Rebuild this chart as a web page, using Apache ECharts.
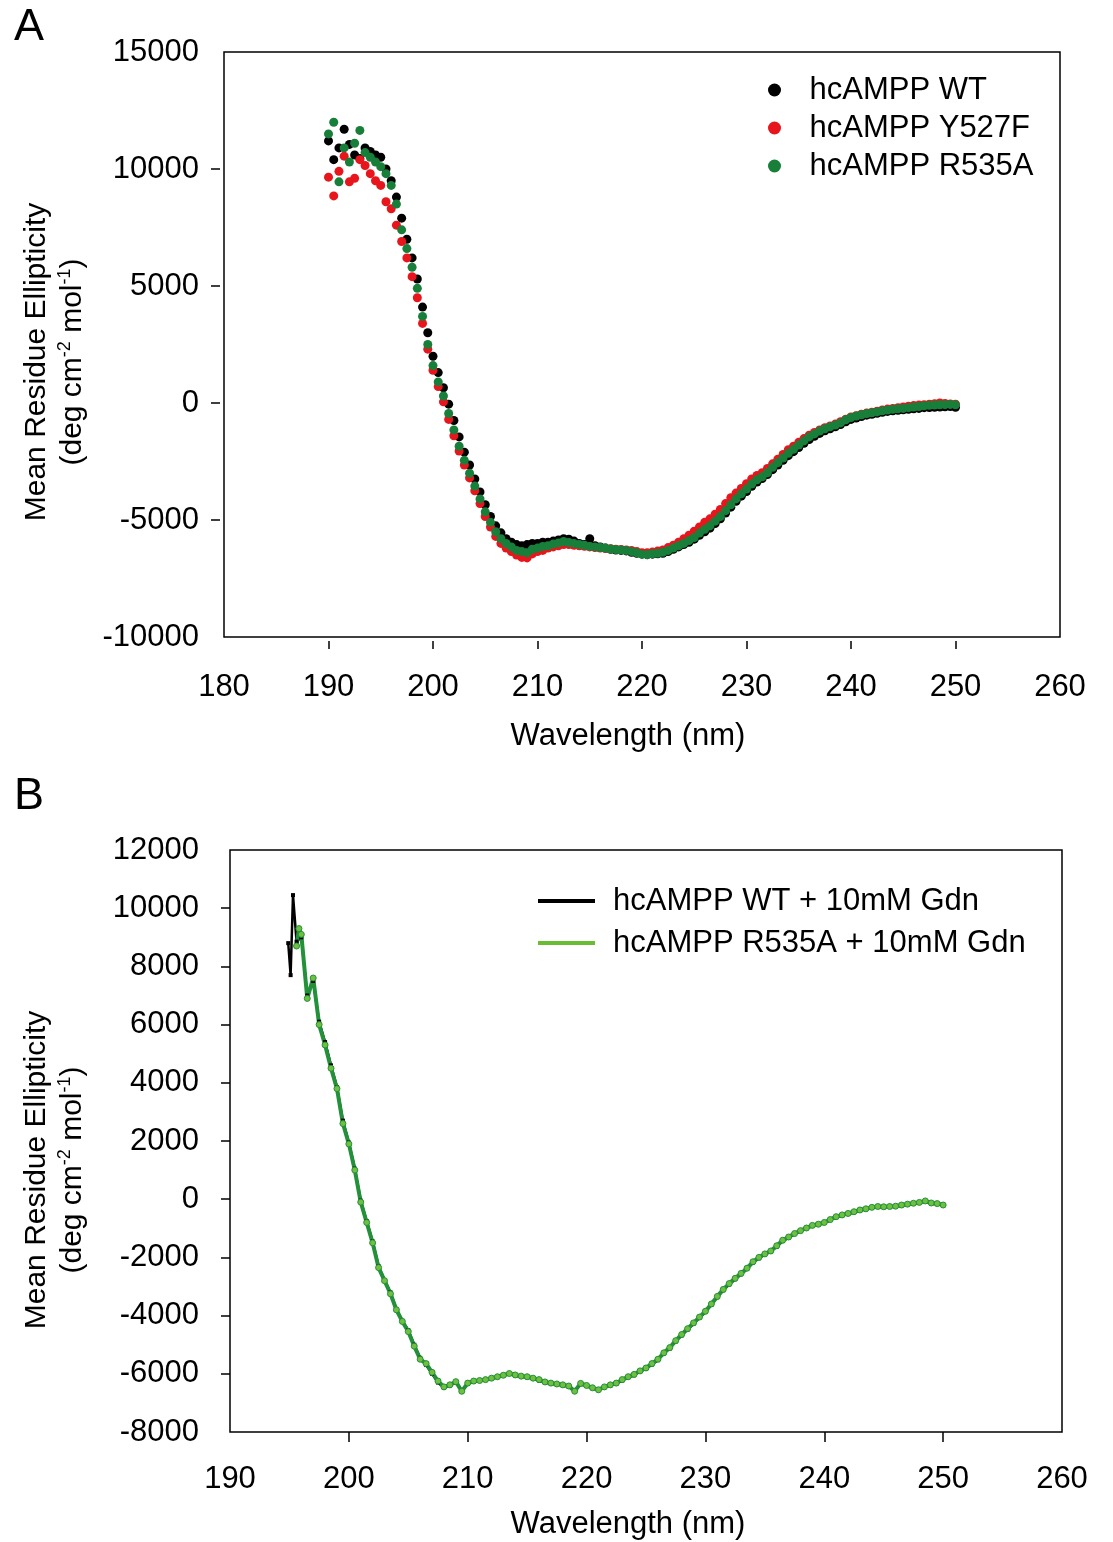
<!DOCTYPE html>
<html>
<head>
<meta charset="utf-8">
<script src="https://cdn.jsdelivr.net/npm/echarts/dist/echarts.min.js"></script>
<style>
  body { margin: 0; background: #fff; }
  #cd { width: 1113px; height: 1542px; }
</style>
</head>
<body>
<div id="cd"></div>
<script>
// CD spectra, panel A (scatter) and panel B (lines with markers)

var FONT = "'Liberation Sans', Arial, Helvetica, sans-serif";

// panel A: 190 - 250 nm, 0.5 nm steps
var startA = 190, stepA = 0.5;
var wtA = [
  11200, 10400, 10900, 11700, 11050, 10600, 10450, 10900, 10750, 10600,
  10500, 10000, 9500, 8800, 7900, 7000, 6200, 5300, 4100, 3000,
  2000, 1300, 650, -50, -750, -1450, -2100, -2650, -3250, -3800,
  -4350, -4850, -5250, -5550, -5800, -5950, -6050, -6100, -6050, -6000,
  -6000, -5950, -5950, -5900, -5850, -5800, -5820, -5900, -6000, -6050,
  -5800, -6100, -6150, -6200, -6250, -6280, -6300, -6320, -6380, -6420,
  -6450, -6480, -6460, -6440, -6420, -6350, -6250, -6150, -6050, -5950,
  -5820, -5650, -5500, -5350, -5150, -4950, -4700, -4450, -4200, -3980,
  -3780, -3560, -3380, -3230, -3060, -2850, -2650, -2450, -2250, -2080,
  -1900, -1720, -1560, -1420, -1300, -1190, -1100, -1020, -920, -800,
  -700, -640, -580, -520, -480, -440, -400, -360, -330, -310,
  -290, -270, -250, -230, -200, -190, -180, -170, -160, -150,
  -180
];
var y527fA = [
  9650, 8850, 9900, 10550, 9450, 9600, 10400, 10150, 9800, 9500,
  9300, 8600, 8300, 7600, 6900, 6200, 5400, 4500, 3400, 2300,
  1400, 700, 50, -700, -1400, -2050, -2650, -3200, -3750, -4300,
  -4850, -5300, -5700, -6000, -6200, -6350, -6500, -6600, -6620, -6450,
  -6350, -6300, -6200, -6150, -6100, -6050, -6050, -6080, -6100, -6120,
  -6150, -6180, -6200, -6220, -6230, -6250, -6260, -6280, -6300, -6350,
  -6400, -6400, -6370, -6330, -6280, -6180, -6080, -5950, -5800, -5650,
  -5480, -5300, -5100, -4950, -4750, -4550, -4300, -4050, -3850, -3650,
  -3450, -3250, -3100, -2980, -2800, -2600, -2400, -2200, -2000, -1850,
  -1680, -1520, -1380, -1260, -1150, -1060, -980, -900, -800, -690,
  -600, -540, -480, -430, -390, -350, -300, -260, -230, -200,
  -170, -140, -110, -90, -70, -50, -30, 0, -20, -40,
  -50
];
var r535aA = [
  11500, 12000, 9450, 10900, 10300, 11100, 11650, 10700, 10500, 10300,
  10100, 9800, 9300, 8500, 7400, 6600, 5800, 4900, 3700, 2500,
  1600, 900, 300, -450, -1150, -1850, -2450, -3000, -3550, -4100,
  -4650, -5100, -5500, -5800, -6000, -6150, -6300, -6350, -6400, -6250,
  -6200, -6130, -6100, -6030, -5980, -5920, -5960, -6000, -6050, -6080,
  -6130, -6150, -6180, -6200, -6240, -6260, -6280, -6300, -6350, -6400,
  -6470, -6480, -6440, -6420, -6380, -6300, -6200, -6100, -6000, -5880,
  -5750, -5560, -5400, -5250, -5050, -4850, -4600, -4350, -4100, -3880,
  -3680, -3460, -3280, -3150, -2980, -2750, -2550, -2350, -2150, -1980,
  -1800, -1620, -1450, -1320, -1200, -1100, -1020, -940, -850, -720,
  -620, -560, -500, -450, -420, -380, -330, -300, -270, -250,
  -230, -200, -170, -150, -120, -100, -90, -80, -70, -60,
  -80
];

// panel B: first few points at their own wavelengths, then 196 - 250 nm in 0.5 nm steps
var wtHeadNm = [194.9, 195.1, 195.3, 195.6];
var wtHead = [8800, 7700, 10450, 8850];
var r535HeadNm = [195.6, 195.8];
var r535Head = [8700, 9300];
var startB = 196, stepB = 0.5;
var wtB = [
  9000, 7000, 7500, 6100, 5400, 4600, 3850, 2700, 1950, 1050,
  -50, -750, -1450, -2300, -2780, -3200, -3780, -4180, -4500, -5000,
  -5450, -5700, -6000, -6300, -6480, -6400, -6300, -6580, -6350, -6270,
  -6250, -6220, -6170, -6120, -6060, -6000, -6060, -6100, -6120, -6170,
  -6230, -6300, -6340, -6370, -6400, -6440, -6580, -6360, -6420, -6500,
  -6560, -6460, -6400, -6340, -6230, -6120, -6050, -5920, -5830, -5680,
  -5530, -5300, -5130, -4890, -4680, -4480, -4280, -4080, -3880, -3630,
  -3370, -3130, -2930, -2750, -2580, -2400, -2180, -2030, -1900, -1800,
  -1630, -1440, -1320, -1200, -1100, -1010, -920, -880, -820, -720,
  -620, -560, -510, -450, -390, -350, -300, -270, -280, -270,
  -260, -220, -190, -160, -130, -80, -150, -170, -210
];
var r535B = [
  9100, 6900, 7600, 6000, 5300, 4500, 3800, 2600, 1900, 1000,
  -100, -800, -1500, -2350, -2800, -3250, -3800, -4200, -4550, -5050,
  -5500, -5650, -5950, -6250, -6450, -6380, -6270, -6600, -6320, -6250,
  -6230, -6200, -6150, -6100, -6050, -5990, -6040, -6080, -6100, -6150,
  -6200, -6280, -6320, -6350, -6380, -6420, -6600, -6330, -6400, -6480,
  -6550, -6450, -6380, -6320, -6200, -6100, -6020, -5900, -5800, -5650,
  -5500, -5280, -5100, -4860, -4650, -4450, -4250, -4050, -3850, -3600,
  -3340, -3100, -2900, -2720, -2550, -2370, -2150, -2000, -1880, -1780,
  -1600, -1410, -1300, -1180, -1080, -990, -900, -860, -800, -700,
  -600, -540, -490, -430, -370, -330, -280, -250, -260, -250,
  -240, -200, -170, -140, -110, -60, -130, -150, -200
];

var namesA = ['hcAMPP WT', 'hcAMPP Y527F', 'hcAMPP R535A'];
var namesB = ['hcAMPP WT + 10mM Gdn', 'hcAMPP R535A + 10mM Gdn'];
var ticksAx = [190, 200, 210, 220, 230, 240, 250];
var ticksAy = [-5000, 0, 5000, 10000];
var ticksBx = [200, 210, 220, 230, 240, 250];
var ticksBy = [-6000, -4000, -2000, 0, 2000, 4000, 6000, 8000, 10000];

function onGrid(start, step, vals) {
  return vals.map(function (v, i) { return [start + i * step, v]; });
}
function pairs(nm, vals) {
  return nm.map(function (x, i) { return [x, vals[i]]; });
}
function plain(v) { return String(v); }

var chart = echarts.init(document.getElementById('cd'));

// the frame comes from the grid border, the axis line itself is kept invisible
var hiddenLine = { show: true, onZero: false, lineStyle: { color: 'rgba(0,0,0,0)', width: 1 } };
var tickStyle = { color: '#000', width: 1.5 };
var labelStyle = { color: '#000', fontSize: 31, fontFamily: FONT, formatter: plain };
var supRich = {
  a: { fontSize: 30, fontFamily: FONT, fill: '#000', lineHeight: 36 },
  s: { fontSize: 18, fontFamily: FONT, fill: '#000', padding: [0, 0, 16, 0] }
};
var yTitle = '{a|Mean Residue Ellipticity}\n{a|(deg cm}{s|-2}{a| mol}{s|-1}{a|)}';

var option = {
  animation: false,
  backgroundColor: '#fff',
  grid: [
    { left: 224, top: 52, width: 836, height: 585, show: true, borderColor: '#000', borderWidth: 1.5 },
    { left: 230, top: 850, width: 832, height: 582, show: true, borderColor: '#000', borderWidth: 1.5 }
  ],
  xAxis: [
    {
      gridIndex: 0, type: 'value', min: 180, max: 260, interval: 10, offset: 4,
      axisLine: hiddenLine,
      axisTick: { show: true, length: 8, customValues: ticksAx, lineStyle: tickStyle },
      axisLabel: Object.assign({ margin: 31 }, labelStyle),
      splitLine: { show: false }
    },
    {
      gridIndex: 1, type: 'value', min: 190, max: 260, interval: 10,
      axisLine: hiddenLine,
      axisTick: { show: true, length: 10, customValues: ticksBx, lineStyle: tickStyle },
      axisLabel: Object.assign({ margin: 32 }, labelStyle),
      splitLine: { show: false }
    }
  ],
  yAxis: [
    {
      gridIndex: 0, type: 'value', min: -10000, max: 15000, interval: 5000, offset: 4,
      axisLine: hiddenLine,
      axisTick: { show: true, length: 9, customValues: ticksAy, lineStyle: tickStyle },
      axisLabel: Object.assign({ margin: 21 }, labelStyle),
      splitLine: { show: false }
    },
    {
      gridIndex: 1, type: 'value', min: -8000, max: 12000, interval: 2000,
      axisLine: hiddenLine,
      axisTick: { show: true, length: 9, customValues: ticksBy, lineStyle: tickStyle },
      axisLabel: Object.assign({ margin: 31 }, labelStyle),
      splitLine: { show: false }
    }
  ],
  legend: [
    {
      orient: 'vertical', left: 768, top: 71, padding: 0, itemWidth: 60, itemHeight: 13, itemGap: 0,
      icon: 'circle',
      textStyle: { color: '#000', fontSize: 31, lineHeight: 38, fontFamily: FONT },
      data: namesA
    },
    {
      orient: 'vertical', left: 538, top: 880, padding: 0, itemWidth: 57, itemHeight: 4, itemGap: 0,
      textStyle: { color: '#000', fontSize: 31, lineHeight: 42, fontFamily: FONT, padding: [0, 0, 0, 13] },
      data: [
        { name: namesB[0], icon: 'rect', itemStyle: { color: '#000', borderWidth: 0 }, lineStyle: { width: 0 } },
        { name: namesB[1], icon: 'rect', itemStyle: { color: '#6abd32', borderWidth: 0 }, lineStyle: { width: 0 } }
      ]
    }
  ],
  graphic: [
    { type: 'text', x: 29, y: 28, style: { text: 'A', fontSize: 45, fontFamily: FONT, fill: '#000', align: 'center', verticalAlign: 'middle' } },
    { type: 'text', x: 29, y: 797, style: { text: 'B', fontSize: 45, fontFamily: FONT, fill: '#000', align: 'center', verticalAlign: 'middle' } },
    { type: 'text', x: 55, y: 362, rotation: Math.PI / 2, style: { text: yTitle, rich: supRich, align: 'center', verticalAlign: 'middle' } },
    { type: 'text', x: 55, y: 1170, rotation: Math.PI / 2, style: { text: yTitle, rich: supRich, align: 'center', verticalAlign: 'middle' } },
    { type: 'text', x: 628, y: 736, style: { text: 'Wavelength (nm)', fontSize: 31, fontFamily: FONT, fill: '#000', align: 'center', verticalAlign: 'middle' } },
    { type: 'text', x: 628, y: 1524, style: { text: 'Wavelength (nm)', fontSize: 31, fontFamily: FONT, fill: '#000', align: 'center', verticalAlign: 'middle' } }
  ],
  series: [
    {
      name: namesA[0], type: 'scatter', xAxisIndex: 0, yAxisIndex: 0,
      symbol: 'circle', symbolSize: 9, itemStyle: { color: '#000', opacity: 1 },
      data: onGrid(startA, stepA, wtA)
    },
    {
      name: namesA[1], type: 'scatter', xAxisIndex: 0, yAxisIndex: 0,
      symbol: 'circle', symbolSize: 9, itemStyle: { color: '#e8161c', opacity: 1 },
      data: onGrid(startA, stepA, y527fA)
    },
    {
      name: namesA[2], type: 'scatter', xAxisIndex: 0, yAxisIndex: 0,
      symbol: 'circle', symbolSize: 9, itemStyle: { color: '#177f3a', opacity: 1 },
      data: onGrid(startA, stepA, r535aA)
    },
    {
      name: namesB[0], type: 'line', xAxisIndex: 1, yAxisIndex: 1,
      symbol: 'rect', symbolSize: 4, showAllSymbol: true,
      lineStyle: { color: '#000', width: 2.5 }, itemStyle: { color: '#000' },
      data: pairs(wtHeadNm, wtHead).concat(onGrid(startB, stepB, wtB))
    },
    {
      name: namesB[1], type: 'line', xAxisIndex: 1, yAxisIndex: 1,
      symbol: 'circle', symbolSize: 6, showAllSymbol: true,
      lineStyle: { color: '#23913a', width: 4 },
      itemStyle: { color: '#6fc040', borderColor: '#23913a', borderWidth: 1 },
      data: pairs(r535HeadNm, r535Head).concat(onGrid(startB, stepB, r535B))
    }
  ]
};

chart.setOption(option);
</script>
</body>
</html>
